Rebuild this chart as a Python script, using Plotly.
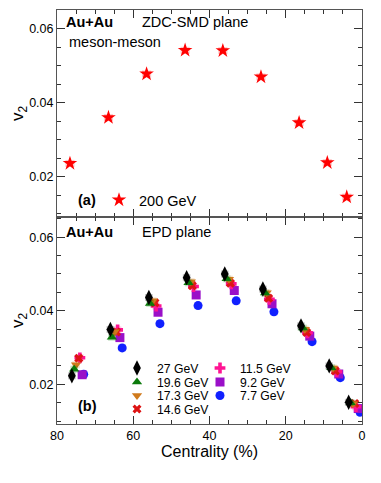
import plotly.graph_objects as go

# panel (a): Au+Au 200 GeV, ZDC-SMD plane, meson-meson
cent_200 = [76.6, 66.5, 56.5, 46.4, 36.5, 26.5, 16.5, 9.1, 4.0]
v2_200 = [0.0236, 0.0360, 0.0478, 0.0542, 0.0541, 0.0470, 0.0346, 0.0238, 0.0145]

# panel (b): EPD plane, beam energy scan
cent_27 = [76.1, 66.0, 55.9, 46.0, 36.0, 26.0, 16.0, 8.6, 3.5]
v2_27 = [0.0223, 0.0349, 0.0436, 0.0490, 0.0500, 0.0459, 0.0359, 0.0250, 0.0151]
cent_196 = [75.5, 65.6, 55.6, 45.5, 35.5, 25.4, 15.5, 8.05, 3.0]
v2_196 = [0.0241, 0.0328, 0.0420, 0.0476, 0.0487, 0.0448, 0.0353, 0.0245, 0.0150]
cent_173 = [75.0, 64.9, 54.9, 44.9, 34.9, 25.0, 15.0, 7.6, 2.4]
v2_173 = [0.0253, 0.0343, 0.0427, 0.0479, 0.0486, 0.0449, 0.0350, 0.0244, 0.0147]
cent_146 = [74.3, 64.4, 54.3, 44.5, 34.5, 24.5, 14.5, 7.0, 1.9]
v2_146 = [0.0271, 0.0342, 0.0422, 0.0468, 0.0475, 0.0434, 0.0341, 0.0236, 0.0148]
cent_115 = [74.0, 64.1, 54.0, 44.2, 34.3, 24.3, 14.3, 6.6, 1.6]
v2_115 = [0.0272, 0.0348, 0.0413, 0.0466, 0.0473, 0.0431, 0.0340, 0.0234, 0.0139]
cent_92 = [73.4, 63.5, 53.5, 43.5, 33.5, 23.6, 13.7, 6.1, 1.0]
v2_92 = [0.0226, 0.0327, 0.0396, 0.0443, 0.0455, 0.0419, 0.0331, 0.0228, 0.0134]
cent_77 = [73.0, 62.9, 53.0, 43.0, 33.0, 23.1, 13.1, 5.7, 0.5]
v2_77 = [0.0227, 0.0299, 0.0365, 0.0414, 0.0427, 0.0397, 0.0316, 0.0218, 0.0124]

energy_labels = ["27 GeV", "19.6 GeV", "17.3 GeV", "14.6 GeV", "11.5 GeV", "9.2 GeV", "7.7 GeV"]

FONT = "Liberation Sans, Arial, Helvetica, sans-serif"

# the page body keeps its 8px default margin, so the figure is placed at (8, 8)
# and made 8px smaller to fit the 381x483 window; plot area on screen: x 57..362, y 10..424
OFF = 8
W, H = 381 - OFF, 483 - OFF
L, T = 57 - OFF, 10 - OFF
R, B = W - (362 - OFF), H - (424 - OFF)
PW, PH = W - L - R, H - T - B


def px_x(p):
    return (p - OFF - L) / PW


def px_y(p):
    return (H - B - (p - OFF)) / PH


# x, y, symbol, color, size, legend slot (screen px of legend box left / row centre)
styles = [
    (cent_27, v2_27, "diamond-tall", "#000000", 11, (117, 368)),
    (cent_196, v2_196, "triangle-up", "#0b7a0b", 9, (117, 382)),
    (cent_173, v2_173, "triangle-down", "#d07a1c", 9, (117, 395.5)),
    (cent_146, v2_146, "x", "#dd1414", 8, (117, 409)),
    (cent_115, v2_115, "cross", "#ff1493", 9, (200, 368)),
    (cent_92, v2_92, "square", "#9a10c8", 9, (200, 382)),
    (cent_77, v2_77, "circle", "#1020ff", 9, (200, 395.5)),
]


def faint(c, a=0.22):
    r, g, b = int(c[1:3], 16), int(c[3:5], 16), int(c[5:7], 16)
    return "rgba(%d,%d,%d,%.2f)" % (r, g, b, a)


fig = go.Figure()

fig.add_trace(go.Scatter(
    x=cent_200, y=v2_200, mode="markers", name="200 GeV",
    marker=dict(symbol="star", size=11, color="#ff0000"),
    error_x=dict(type="constant", value=1.2, thickness=7, width=0, color=faint("#ff0000")),
    xaxis="x", yaxis="y", legend="legend",
))

legends = {}
legends["legend"] = dict(x=px_x(99), y=px_y(200), size=14.5)
for i in reversed(range(len(styles))):
    cx, vy, sym, col, sz, pos = styles[i]
    lname = "legend%d" % (i + 2)
    fig.add_trace(go.Scatter(
        x=cx, y=vy, mode="markers", name=energy_labels[i],
        marker=dict(symbol=sym, size=sz, color=col),
        error_x=dict(type="constant", value=1.0, thickness=7, width=0, color=faint(col)),
        xaxis="x2", yaxis="y2", legend=lname,
    ))
    legends[lname] = dict(x=px_x(pos[0]), y=px_y(pos[1]), size=12.2)

for k, v in legends.items():
    fig.update_layout({k: dict(x=v["x"], y=v["y"], xanchor="left", yanchor="middle",
                               bgcolor="rgba(0,0,0,0)", borderwidth=0,
                               font=dict(family=FONT, size=v["size"], color="#000"))})

axis_common = dict(
    showline=True, linecolor="#555", linewidth=1, mirror="allticks", automargin=False,
    ticks="inside", ticklen=8, tickcolor="#333", showgrid=False, zeroline=False,
    tickfont=dict(family=FONT, size=12.5, color="#000"),
)
y_minor = [0.01, 0.015, 0.025, 0.03, 0.035, 0.045, 0.05, 0.055, 0.065]

fig.update_layout(
    width=W, height=H,
    margin=dict(l=L, r=R, t=T, b=B, autoexpand=False),
    paper_bgcolor="white", plot_bgcolor="white",
    showlegend=True,
    xaxis=dict(axis_common, domain=[0, 1], anchor="y", range=[80, 0], matches="x2",
               tickvals=[0, 20, 40, 60, 80], showticklabels=False,
               minor=dict(ticks="inside", ticklen=4, dtick=5, tickcolor="#333")),
    yaxis=dict(axis_common, domain=[0.5, 1], anchor="x", range=[0.0091, 0.0651],
               tickvals=[0.02, 0.04, 0.06], ticktext=["0.02", "0.04", "0.06"],
               minor=dict(ticks="inside", ticklen=4, tickvals=y_minor, tickcolor="#333"),
               title=dict(text="v<sub>2</sub>", font=dict(family=FONT, size=17, color="#000"), standoff=13)),
    xaxis2=dict(axis_common, domain=[0, 1], anchor="y2", range=[80, 0],
                tickvals=[0, 20, 40, 60, 80], ticktext=["0", "20", "40", "60", "80"],
                minor=dict(ticks="inside", ticklen=4, dtick=5, tickcolor="#333"),
                title=dict(text="Centrality (%)", font=dict(family=FONT, size=16, color="#000"), standoff=1)),
    yaxis2=dict(axis_common, domain=[0, 0.5], anchor="x2", range=[0.0092, 0.0655],
                tickvals=[0.02, 0.04, 0.06], ticktext=["0.02", "0.04", "0.06"],
                minor=dict(ticks="inside", ticklen=4, tickvals=y_minor, tickcolor="#333"),
                title=dict(text="v<sub>2</sub>", font=dict(family=FONT, size=17, color="#000"), standoff=13)),
)

notes = [
    ("<b>Au+Au</b>", 64, 22, 14.5),
    ("ZDC-SMD plane", 140, 22, 14.5),
    ("meson-meson", 67, 42, 14.5),
    ("<b>(a)</b>", 76, 200, 14.5),
    ("<b>Au+Au</b>", 64, 232, 14.5),
    ("EPD plane", 140, 232, 14.5),
    ("<b>(b)</b>", 76, 406, 14.5),
]
for txt, x0, y0, fs in notes:
    fig.add_annotation(text=txt, xref="paper", yref="paper", x=px_x(x0), y=px_y(y0),
                       xanchor="left", yanchor="middle", showarrow=False,
                       font=dict(family=FONT, size=fs, color="#000"))

fig.write_html("out.html")
